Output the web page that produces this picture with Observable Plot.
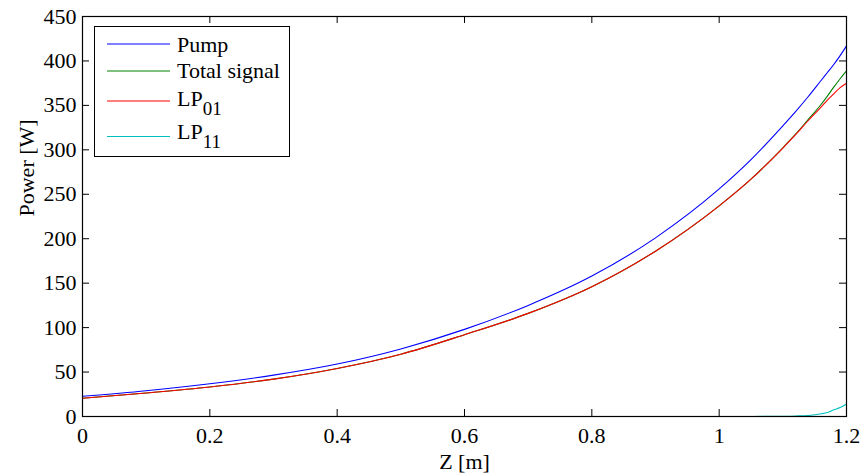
<!DOCTYPE html>
<html>
<head>
<meta charset="utf-8">
<script src="https://cdn.jsdelivr.net/npm/d3@7"></script>
<script src="https://cdn.jsdelivr.net/npm/@observablehq/plot@0.6"></script>
</head>
<body style="margin:0; background:#fff">
<div id="chart"></div>
<script>
// Positions along the fibre [m]
const z = [0, 0.1, 0.2, 0.3, 0.4, 0.5, 0.6, 0.7, 0.8, 0.9, 1.0, 1.05, 1.1, 1.12, 1.14, 1.16, 1.17, 1.18, 1.19, 1.2];
// Powers [W]
const pump        = [22.8, 29.0, 36.8, 46.5, 59, 76, 98, 125, 158, 201, 256, 289, 327, 343, 360, 378, 387, 396, 406, 417];
const totalSignal = [20.6, 26.5, 33.2, 42, 54, 70, 92, 116, 146, 186, 237, 267, 302.3, 317.6, 334.2, 351, 360.5, 370.5, 380, 389];
const lp01        = [20.6, 26.5, 33.2, 42, 54, 70, 92, 116, 146, 186, 237, 267, 302, 317, 333, 348, 356, 363, 370, 375];
const lp11        = [0, 0, 0, 0, 0, 0, 0, 0, 0, 0, 0, 0.05, 0.3, 0.6, 1.2, 3, 4.5, 7.5, 10, 14];

const xTicks = [0, 0.2, 0.4, 0.6, 0.8, 1, 1.2];
const yTicks = [0, 50, 100, 150, 200, 250, 300, 350, 400, 450];
const xTitle = "Z [m]";
const yTitle = "Power [W]";

const seriesNames = ["Pump", "Total signal", "LP01", "LP11"];
const seriesColors = ["#0000ff", "#008000", "#ff0000", "#00bfbf"];
const seriesValues = [pump, totalSignal, lp01, lp11];

const rows = seriesValues.flatMap((vals, s) => vals.map((v, i) => ({series: seriesNames[s], z: z[i], p: v})));

const W = 865, H = 476;
const mL = 82, mR = 19, mT = 16, mB = 60;
const pw = W - mL - mR, ph = H - mT - mB;
const tick = 7;
const FF = "Liberation Serif";
const FS = 22;

const plot = Plot.plot({
  width: W, height: H,
  marginLeft: mL, marginRight: mR, marginTop: mT, marginBottom: mB,
  style: "font-family:'Liberation Serif'; font-size:22px; color:#000; background:#fff",
  x: {domain: [0, 1.2], axis: null},
  y: {domain: [0, 450], axis: null},
  marks: [
    ...seriesNames.map((name, s) => Plot.line(rows.filter(r => r.series === name), {x: "z", y: "p", stroke: seriesColors[s], strokeWidth: 1.1, curve: "monotone-x"})),
    Plot.tickX(xTicks, {x: d => d, insetTop: ph - tick, stroke: "#000", strokeWidth: 1}),
    Plot.tickX(xTicks, {x: d => d, insetBottom: ph - tick, stroke: "#000", strokeWidth: 1}),
    Plot.tickY(yTicks, {y: d => d, insetRight: pw - tick, stroke: "#000", strokeWidth: 1}),
    Plot.tickY(yTicks, {y: d => d, insetLeft: pw - tick, stroke: "#000", strokeWidth: 1}),
    Plot.frame({stroke: "#000", strokeWidth: 1.2}),
    // tick labels through the library's scales
    Plot.text(xTicks, {x: d => d, frameAnchor: "bottom", lineAnchor: "top", dy: 11, text: d => String(d), fontFamily: FF, fontSize: FS, fill: "#000"}),
    Plot.text(yTicks, {y: d => d, frameAnchor: "left", textAnchor: "end", lineAnchor: "middle", dx: -6, text: d => String(d), fontFamily: FF, fontSize: FS, fill: "#000"}),
    // axis titles
    Plot.text([xTitle], {frameAnchor: "bottom", lineAnchor: "middle", dy: 45, text: d => d, fontFamily: FF, fontSize: FS, fill: "#000"}),
    Plot.text([yTitle], {frameAnchor: "left", lineAnchor: "middle", rotate: -90, dx: -56, text: d => d, fontFamily: FF, fontSize: FS, fill: "#000"})
  ]
});
document.getElementById("chart").appendChild(plot);

// Legend box drawn inside the SVG
const svg = d3.select(plot);
const lg = svg.append("g").attr("text-anchor", "start").attr("font-family", FF).attr("font-size", FS);
lg.append("rect").attr("x", 94.5).attr("y", 26.5).attr("width", 195).attr("height", 130).attr("fill", "#fff").attr("stroke", "#000").attr("stroke-width", 1);
const entries = [
  {y: 44, base: "Pump", sub: "", by: 51.7},
  {y: 71, base: "Total signal", sub: "", by: 78},
  {y: 101, base: "LP", sub: "01", by: 106},
  {y: 136.5, base: "LP", sub: "11", by: 138.5}
];
entries.forEach((e, i) => {
  lg.append("line").attr("x1", 107).attr("x2", 170).attr("y1", e.y).attr("y2", e.y).attr("stroke", seriesColors[i]).attr("stroke-width", 1.1);
  const t = lg.append("text").attr("x", 177).attr("y", e.by).attr("fill", "#000").attr("text-anchor", "start");
  t.append("tspan").text(e.base);
  if (e.sub) t.append("tspan").attr("dy", 9).attr("font-size", 19).text(e.sub);
});
</script>
</body>
</html>
